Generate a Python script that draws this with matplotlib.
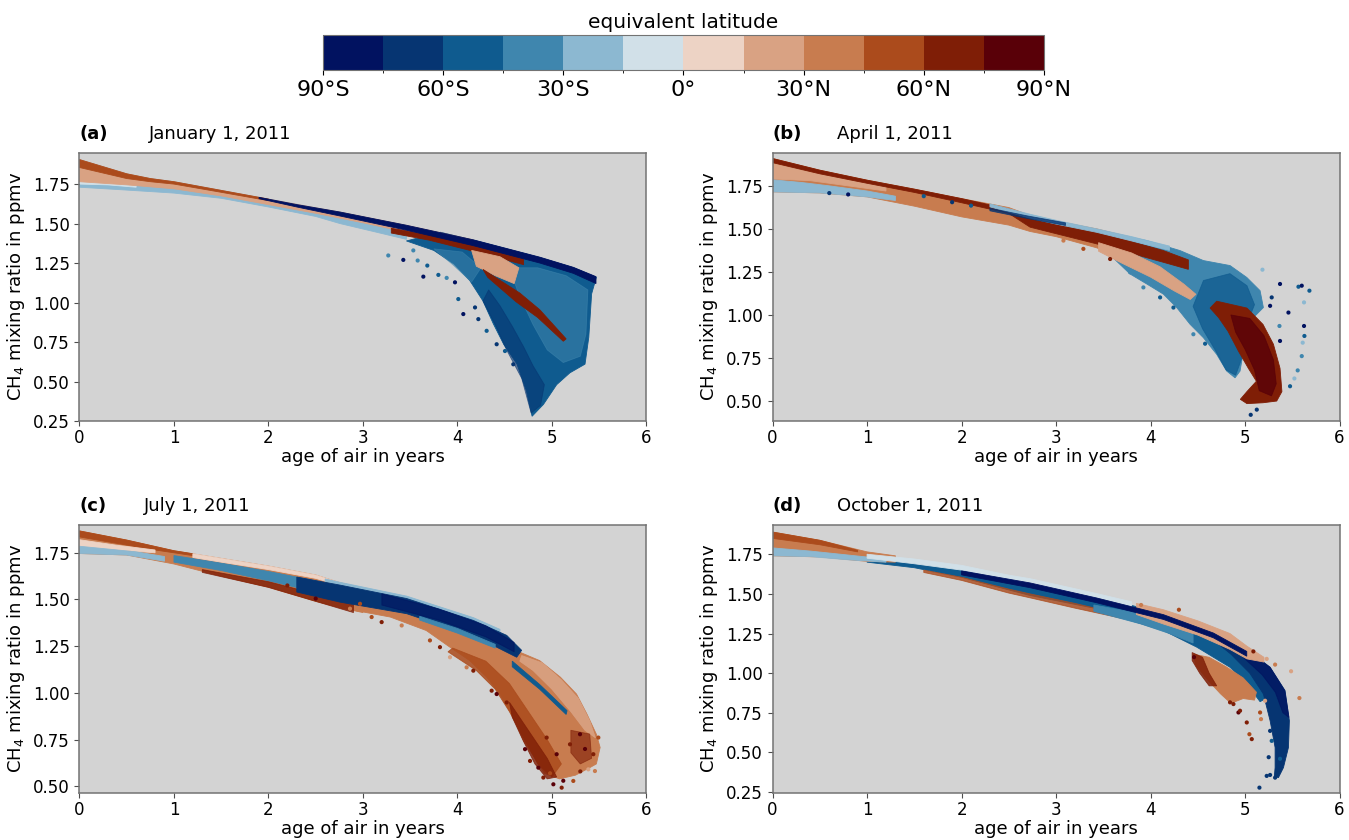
import matplotlib
matplotlib.use("Agg")
import matplotlib.pyplot as plt
from matplotlib.colors import ListedColormap, BoundaryNorm
from matplotlib.cm import ScalarMappable

# ---------------- colour scale (equivalent latitude) ----------------
lat_bounds = [-90, -75, -60, -45, -30, -15, 0, 15, 30, 45, 60, 75, 90]
band_colors = ["#011260", "#063572", "#0f5b8f", "#3f86ae", "#8cb8d1", "#d1e0e8",
               "#edd3c5", "#d9a283", "#c87c4f", "#ab4b1c", "#7f1e06", "#590008"]
cbar_ticks = [-90, -60, -30, 0, 30, 60, 90]
cbar_labels = ["90°S", "60°S", "30°S", "0°", "30°N", "60°N", "90°N"]

panel_letters = ["(a)", "(b)", "(c)", "(d)"]
panel_titles = ["January 1, 2011", "April 1, 2011", "July 1, 2011", "October 1, 2011"]
x_ticks = [0, 1, 2, 3, 4, 5, 6]
y_limits = [(0.25, 1.948), (0.384, 1.942), (0.466, 1.90), (0.246, 1.936)]
y_ticks = [[0.25, 0.50, 0.75, 1.00, 1.25, 1.50, 1.75],
           [0.50, 0.75, 1.00, 1.25, 1.50, 1.75],
           [0.50, 0.75, 1.00, 1.25, 1.50, 1.75],
           [0.25, 0.50, 0.75, 1.00, 1.25, 1.50, 1.75]]

# ---------------- panel (a): January (age in years, CH4 in ppmv) ----------------
a_cloud_age = [3.46, 3.75, 3.96, 4.13, 4.27, 4.38, 4.49, 4.63, 4.73, 4.79, 4.91, 5.05, 5.19, 5.35, 5.39, 5.42, 5.47, 5.23, 4.87, 4.17, 3.82]
a_cloud_ch4 = [1.39, 1.33, 1.245, 1.14, 1.01, 0.865, 0.735, 0.61, 0.44, 0.28, 0.355, 0.48, 0.555, 0.61, 0.78, 1.055, 1.16, 1.22, 1.285, 1.395, 1.445]
a_cloudlight_age = [4.55, 4.85, 5.15, 5.38, 5.36, 5.30, 5.12, 4.95, 4.80, 4.65]
a_cloudlight_ch4 = [1.22, 1.22, 1.17, 1.08, 0.80, 0.66, 0.62, 0.70, 0.86, 1.05]
a_cloudlight2_age = [3.75, 4.05, 4.25, 4.15, 3.95]
a_cloudlight2_ch4 = [1.34, 1.32, 1.22, 1.13, 1.24]
a_clouddark_age = [4.27, 4.40, 4.52, 4.68, 4.78, 4.88, 4.92, 4.80, 4.70, 4.58, 4.45, 4.33]
a_clouddark_ch4 = [1.01, 0.86, 0.70, 0.52, 0.30, 0.35, 0.48, 0.60, 0.72, 0.85, 0.98, 1.08]
a_bandblue_age = [0, 0.25, 0.5, 0.75, 1, 1.5, 2, 2.5, 2.757, 3.1, 3.46, 3.46, 3.11, 2.757, 2.5, 2, 1.5, 1, 0.5, 0]
a_bandblue_ch4 = [1.905, 1.86, 1.815, 1.785, 1.765, 1.71, 1.655, 1.60, 1.573, 1.53, 1.489, 1.40, 1.45, 1.50, 1.545, 1.605, 1.66, 1.693, 1.712, 1.73]
a_bandlight_age = [0, 0.3, 0.6, 0.6, 0.3, 0]
a_bandlight_ch4 = [1.775, 1.76, 1.745, 1.73, 1.745, 1.75]
a_bandorange_age = [0, 0.25, 0.5, 0.75, 1, 1.5, 2, 2.5, 2.757, 3.46, 4.168, 4.17, 3.8, 3.46, 3.0, 2.5, 2, 1.5, 1, 0.5, 0.25, 0]
a_bandorange_ch4 = [1.905, 1.86, 1.815, 1.785, 1.765, 1.71, 1.655, 1.60, 1.573, 1.489, 1.397, 1.35, 1.40, 1.445, 1.505, 1.565, 1.62, 1.675, 1.72, 1.745, 1.755, 1.765]
a_bandred_age = [0, 0.25, 0.5, 0.75, 1.0, 1.5, 2.0, 2.0, 1.5, 1.0, 0.75, 0.5, 0.25, 0]
a_bandred_ch4 = [1.905, 1.86, 1.815, 1.785, 1.765, 1.71, 1.655, 1.645, 1.698, 1.75, 1.765, 1.785, 1.82, 1.855]
a_darkred_age = [3.3, 3.7, 4.1, 4.45, 4.7, 4.7, 4.45, 4.1, 3.7, 3.3]
a_darkred_ch4 = [1.47, 1.43, 1.375, 1.32, 1.275, 1.24, 1.28, 1.335, 1.395, 1.44]
a_peach_age = [4.15, 4.45, 4.65, 4.60, 4.40, 4.20]
a_peach_ch4 = [1.33, 1.29, 1.22, 1.12, 1.17, 1.23]
a_streak_age = [4.27, 4.66, 4.87, 5.15, 5.12, 4.85, 4.62, 4.32]
a_streak_ch4 = [1.21, 1.06, 0.955, 0.77, 0.755, 0.905, 1.005, 1.16]
a_navy_age = [1.9, 2.3, 2.757, 3.462, 4.168, 4.873, 5.226, 5.466, 5.466, 5.226, 4.873, 4.168, 3.462, 2.757, 2.3, 1.9]
a_navy_ch4 = [1.666, 1.62, 1.573, 1.489, 1.397, 1.287, 1.223, 1.164, 1.12, 1.185, 1.25, 1.36, 1.458, 1.548, 1.605, 1.658]
a_dot_age = [3.268, 3.427, 3.579, 3.681, 3.533, 3.639, 3.798, 3.886, 3.974, 4.009, 4.062, 4.186, 4.221, 4.309, 4.415, 4.503, 4.591]
a_dot_ch4 = [1.298, 1.270, 1.266, 1.234, 1.330, 1.164, 1.175, 1.156, 1.128, 1.022, 0.927, 0.969, 0.895, 0.821, 0.736, 0.693, 0.609]
a_dot_lat = [-37.5, -82.5, -37.5, -52.5, -37.5, -82.5, -52.5, -37.5, -82.5, -52.5, -82.5, -67.5, -67.5, -52.5, -67.5, -52.5, -67.5]

# ---------------- panel (b): April ----------------
b_cloud_age = [3.607, 3.960, 4.312, 4.559, 4.841, 5.018, 5.159, 5.194, 5.018, 4.983, 4.947, 4.894, 4.806, 4.700, 4.559, 4.418, 4.277, 4.136, 3.960, 3.783, 3.55]
b_cloud_ch4 = [1.471, 1.432, 1.374, 1.316, 1.287, 1.218, 1.141, 1.043, 0.946, 0.791, 0.674, 0.635, 0.674, 0.771, 0.868, 0.946, 1.043, 1.121, 1.180, 1.238, 1.36]
b_clouddark_age = [4.56, 4.84, 5.02, 5.10, 5.00, 4.96, 4.90, 4.80, 4.68, 4.55, 4.45]
b_clouddark_ch4 = [1.20, 1.24, 1.17, 1.06, 0.92, 0.74, 0.65, 0.68, 0.80, 0.92, 1.05]
b_band_age = [0, 0.5, 1, 1.5, 2, 2.5, 2.725, 3.0, 3.43, 3.8, 3.8, 3.43, 3.0, 2.725, 2.5, 2, 1.5, 1, 0.5, 0]
b_band_ch4 = [1.909, 1.841, 1.783, 1.731, 1.676, 1.624, 1.578, 1.545, 1.50, 1.45, 1.31, 1.39, 1.455, 1.485, 1.522, 1.57, 1.632, 1.686, 1.709, 1.715]
b_peachleft_age = [0, 0.4, 0.8, 1.2, 1.2, 0.8, 0.4, 0]
b_peachleft_ch4 = [1.88, 1.83, 1.785, 1.745, 1.72, 1.75, 1.78, 1.79]
b_blueleft_age = [0, 0.3, 0.6, 1.0, 1.3, 1.3, 1.0, 0.5, 0]
b_blueleft_ch4 = [1.785, 1.77, 1.75, 1.72, 1.69, 1.665, 1.686, 1.709, 1.715]
b_darkred_age = [0, 0.5, 1, 1.5, 2, 2.5, 2.725, 3.43, 4.136, 4.40, 4.40, 4.136, 3.43, 2.725, 2.5, 2, 1.5, 1, 0.5, 0]
b_darkred_ch4 = [1.909, 1.841, 1.783, 1.731, 1.676, 1.615, 1.565, 1.485, 1.374, 1.32, 1.265, 1.306, 1.413, 1.51, 1.59, 1.652, 1.712, 1.765, 1.82, 1.885]
b_lightblue_age = [2.3, 2.725, 3.0, 3.43, 3.8, 4.2, 4.2, 3.8, 3.43, 3.0, 2.725, 2.3]
b_lightblue_ch4 = [1.645, 1.585, 1.55, 1.50, 1.455, 1.40, 1.375, 1.43, 1.48, 1.528, 1.562, 1.628]
b_navystreak_age = [2.3, 2.7, 3.1, 3.1, 2.7, 2.3]
b_navystreak_ch4 = [1.62, 1.575, 1.535, 1.52, 1.56, 1.605]
b_peach_age = [3.45, 3.80, 4.10, 4.35, 4.48, 4.42, 4.25, 4.00, 3.70, 3.45]
b_peach_ch4 = [1.42, 1.36, 1.28, 1.18, 1.12, 1.09, 1.14, 1.22, 1.30, 1.37]
b_blob_age = [4.70, 5.02, 5.19, 5.30, 5.37, 5.39, 5.335, 5.19, 5.02, 4.95, 5.02, 5.12, 5.035, 4.93, 4.82, 4.72, 4.63]
b_blob_ch4 = [1.08, 1.04, 0.945, 0.83, 0.69, 0.555, 0.50, 0.49, 0.485, 0.51, 0.555, 0.615, 0.69, 0.79, 0.905, 0.985, 1.04]
b_blobcore_age = [4.85, 5.05, 5.20, 5.30, 5.33, 5.28, 5.15, 5.10, 5.00, 4.90]
b_blobcore_ch4 = [1.00, 0.98, 0.88, 0.74, 0.60, 0.53, 0.56, 0.68, 0.80, 0.90]
b_dot_age = [5.184, 5.370, 5.459, 5.565, 5.600, 5.681, 5.624, 5.624, 5.628, 5.610, 5.600, 5.557, 5.522, 5.476, 5.364, 5.370, 5.282, 5.265, 5.06, 5.124,
             3.783, 3.924, 4.101, 4.242, 4.453, 4.577, 3.078, 3.289, 3.572, 1.6, 1.9, 2.1, 0.6, 0.8]
b_dot_ch4 = [1.263, 1.180, 1.014, 1.164, 1.170, 1.141, 1.073, 0.936, 0.878, 0.839, 0.761, 0.678, 0.631, 0.586, 0.936, 0.849, 1.102, 1.053, 0.42, 0.450,
             1.248, 1.160, 1.102, 1.043, 0.888, 0.833, 1.432, 1.384, 1.325, 1.69, 1.655, 1.635, 1.708, 1.70]
b_dot_lat = [-22.5, -82.5, -82.5, -52.5, -82.5, -52.5, -22.5, -82.5, -52.5, -22.5, -37.5, -37.5, -22.5, -52.5, -37.5, -82.5, -67.5, -82.5, -67.5, -67.5,
             -37.5, -37.5, -52.5, -52.5, -37.5, -52.5, 37.5, 52.5, 67.5, -52.5, -67.5, -52.5, -67.5, -82.5]

# ---------------- panel (c): July ----------------
c_cloud_age = [4.66, 4.87, 5.09, 5.26, 5.37, 5.47, 5.51, 5.47, 5.40, 5.25, 5.08, 4.92, 4.82, 4.70, 4.59, 4.45, 4.31, 4.13, 3.92, 3.67, 3.29, 2.76, 2.76, 3.46, 3.99, 4.34, 4.63]
c_cloud_ch4 = [1.218, 1.173, 1.084, 0.994, 0.887, 0.779, 0.708, 0.62, 0.60, 0.56, 0.54, 0.57, 0.65, 0.743, 0.869, 0.994, 1.084, 1.173, 1.245, 1.334, 1.406, 1.456, 1.486, 1.424, 1.334, 1.263, 1.191]
c_cloudlight_age = [4.68, 4.90, 5.10, 5.28, 5.40, 5.46, 5.35, 5.20, 5.00, 4.80, 4.66]
c_cloudlight_ch4 = [1.20, 1.16, 1.07, 0.97, 0.85, 0.76, 0.80, 0.90, 1.02, 1.12, 1.17]
c_cloudred_age = [3.95, 4.30, 4.55, 4.75, 4.95, 5.10, 5.00, 4.85, 4.70, 4.55, 4.40, 4.20, 3.90]
c_cloudred_ch4 = [1.24, 1.17, 1.05, 0.90, 0.75, 0.62, 0.55, 0.62, 0.76, 0.90, 1.02, 1.12, 1.22]
c_clouddark_age = [4.55, 4.75, 4.95, 5.05, 4.95, 4.82, 4.70, 4.58]
c_clouddark_ch4 = [0.95, 0.80, 0.65, 0.55, 0.54, 0.62, 0.74, 0.87]
c_clouddark2_age = [5.20, 5.40, 5.42, 5.30, 5.20]
c_clouddark2_ch4 = [0.80, 0.78, 0.65, 0.62, 0.68]
c_band_age = [0, 0.5, 1, 1.5, 2, 2.5, 2.757, 3.0, 3.0, 2.757, 2.5, 2, 1.5, 1, 0.5, 0]
c_band_ch4 = [1.867, 1.818, 1.761, 1.72, 1.679, 1.631, 1.59, 1.56, 1.43, 1.456, 1.49, 1.565, 1.625, 1.69, 1.738, 1.746]
c_redtop_age = [0, 0.5, 1, 1.2, 1.2, 0.8, 0.4, 0]
c_redtop_ch4 = [1.867, 1.818, 1.761, 1.745, 1.735, 1.765, 1.80, 1.835]
c_peachleft_age = [0, 0.4, 0.8, 0.8, 0.4, 0]
c_peachleft_ch4 = [1.82, 1.79, 1.765, 1.75, 1.765, 1.78]
c_blueleft_age = [0, 0.3, 0.6, 0.9, 0.9, 0.5, 0]
c_blueleft_ch4 = [1.785, 1.77, 1.755, 1.73, 1.705, 1.738, 1.746]
c_bluemid_age = [1.0, 1.5, 2, 2.5, 2.757, 2.757, 2.5, 2, 1.5, 1.0]
c_bluemid_ch4 = [1.735, 1.695, 1.65, 1.60, 1.565, 1.50, 1.54, 1.60, 1.655, 1.70]
c_lighttop_age = [1.2, 1.5, 2, 2.5, 2.757, 2.757, 2.5, 2, 1.5, 1.2]
c_lighttop_ch4 = [1.745, 1.72, 1.679, 1.631, 1.59, 1.575, 1.613, 1.66, 1.70, 1.725]
c_redbottom_age = [1.3, 2, 2.5, 2.9, 2.9, 2.5, 2, 1.3]
c_redbottom_ch4 = [1.66, 1.595, 1.53, 1.47, 1.43, 1.49, 1.565, 1.645]
c_lightblue_age = [2.6, 2.757, 3.463, 4.168, 4.45, 4.45, 4.168, 3.463, 2.757, 2.6]
c_lightblue_ch4 = [1.61, 1.592, 1.518, 1.403, 1.34, 1.325, 1.385, 1.503, 1.575, 1.595]
c_navy_age = [2.3, 2.757, 3.463, 4.168, 4.521, 4.679, 4.627, 4.344, 3.992, 3.463, 2.757, 2.3]
c_navy_ch4 = [1.62, 1.577, 1.505, 1.388, 1.308, 1.228, 1.191, 1.263, 1.334, 1.424, 1.486, 1.54]
c_navydark_age = [3.2, 3.8, 4.3, 4.6, 4.6, 4.3, 3.8, 3.2]
c_navydark_ch4 = [1.53, 1.45, 1.36, 1.27, 1.22, 1.30, 1.39, 1.47]
c_bluelow_age = [3.6, 4.0, 4.4, 4.4, 4.0, 3.6]
c_bluelow_ch4 = [1.41, 1.345, 1.26, 1.24, 1.32, 1.39]
c_streak_age = [4.58, 4.87, 5.16, 5.15, 4.87, 4.58]
c_streak_ch4 = [1.17, 1.045, 0.905, 0.885, 1.02, 1.14]
c_dot_age = [3.709, 3.815, 3.921, 4.097, 4.168, 4.362, 4.415, 4.521, 4.715, 4.768, 4.856, 4.909, 5.015, 5.103, 5.226, 5.385, 5.455, 5.491,
             5.438, 5.297, 5.191, 5.050, 4.944, 3.410, 3.198, 3.092, 2.863, 2.969, 5.35, 5.30, 5.12, 4.98, 2.2, 2.5]
c_dot_ch4 = [1.281, 1.245, 1.191, 1.137, 1.119, 1.012, 0.994, 0.949, 0.699, 0.636, 0.600, 0.547, 0.511, 0.493, 0.529, 0.591, 0.582, 0.761,
             0.672, 0.779, 0.725, 0.672, 0.761, 1.361, 1.379, 1.406, 1.451, 1.477, 0.70, 0.58, 0.53, 0.57, 1.575, 1.505]
c_dot_lat = [52.5, 67.5, 22.5, 37.5, 67.5, 67.5, 82.5, 67.5, 82.5, 67.5, 82.5, 67.5, 82.5, 67.5, 52.5, 22.5, 37.5, 52.5,
             67.5, 82.5, 67.5, 82.5, 67.5, 37.5, 67.5, 52.5, 37.5, 52.5, 82.5, 67.5, 82.5, 52.5, 67.5, 82.5]

# ---------------- panel (d): October ----------------
d_body_age = [1.0, 1.5, 2, 2.5, 2.725, 3.43, 4.136, 4.665, 5.018, 5.265, 5.35, 5.25, 5.159, 5.018, 4.841, 4.489, 4.136, 3.783, 3.43, 2.725, 2.5, 2, 1.5, 1.0]
d_body_ch4 = [1.735, 1.70, 1.66, 1.60, 1.578, 1.485, 1.375, 1.25, 1.14, 1.02, 0.95, 0.85, 0.82, 0.932, 1.037, 1.164, 1.269, 1.333, 1.407, 1.49, 1.525, 1.605, 1.665, 1.70]
d_tail_age = [4.665, 5.018, 5.265, 5.423, 5.469, 5.459, 5.406, 5.353, 5.31, 5.318, 5.318, 5.265, 5.194, 5.05, 4.85, 4.665]
d_tail_ch4 = [1.269, 1.153, 1.037, 0.890, 0.700, 0.531, 0.404, 0.341, 0.35, 0.404, 0.531, 0.700, 0.869, 1.00, 1.12, 1.21]
d_taildark_age = [5.0, 5.265, 5.42, 5.465, 5.40, 5.32, 5.18, 4.98]
d_taildark_ch4 = [1.15, 1.037, 0.89, 0.72, 0.75, 0.88, 0.99, 1.10]
d_leftorange_age = [0, 0.5, 1, 1.3, 1.3, 1, 0.5, 0]
d_leftorange_ch4 = [1.89, 1.838, 1.765, 1.74, 1.70, 1.705, 1.733, 1.74]
d_leftred_age = [0, 0.5, 0.9, 0.9, 0.5, 0]
d_leftred_ch4 = [1.89, 1.838, 1.775, 1.765, 1.81, 1.85]
d_leftblue_age = [0, 0.4, 0.8, 1.2, 1.2, 0.8, 0.4, 0]
d_leftblue_ch4 = [1.79, 1.77, 1.745, 1.72, 1.70, 1.715, 1.735, 1.74]
d_lighttop_age = [1.0, 1.5, 2, 2.5, 2.725, 3.43, 3.8, 3.8, 3.43, 2.725, 2.5, 2, 1.5, 1.0]
d_lighttop_ch4 = [1.75, 1.72, 1.68, 1.618, 1.596, 1.502, 1.45, 1.42, 1.475, 1.565, 1.59, 1.65, 1.69, 1.725]
d_orangebottom_age = [1.6, 2, 2.5, 2.725, 3.2, 3.7, 3.7, 3.2, 2.725, 2.5, 2, 1.6]
d_orangebottom_ch4 = [1.65, 1.605, 1.53, 1.50, 1.44, 1.37, 1.345, 1.41, 1.475, 1.505, 1.585, 1.635]
d_bluelight_age = [3.4, 3.9, 4.2, 4.45, 4.45, 4.2, 3.9, 3.4]
d_bluelight_ch4 = [1.43, 1.375, 1.32, 1.25, 1.19, 1.25, 1.31, 1.39]
d_peach_age = [3.85, 4.136, 4.5, 4.84, 5.02, 5.2, 5.2, 5.02, 4.84, 4.5, 4.136, 3.85]
d_peach_ch4 = [1.44, 1.40, 1.33, 1.25, 1.17, 1.10, 1.07, 1.09, 1.15, 1.24, 1.31, 1.37]
d_navyline_age = [2.0, 2.725, 3.43, 4.136, 4.665, 5.018, 5.018, 4.665, 4.136, 3.43, 2.725, 2.0]
d_navyline_ch4 = [1.645, 1.569, 1.474, 1.369, 1.253, 1.137, 1.107, 1.223, 1.339, 1.444, 1.539, 1.62]
d_cloud_age = [4.45, 4.62, 4.80, 4.98, 5.12, 5.10, 4.98, 4.85, 4.74, 4.60, 4.48]
d_cloud_ch4 = [1.12, 1.10, 1.04, 0.97, 0.88, 0.83, 0.84, 0.81, 0.87, 0.96, 1.05]
d_clouddark_age = [4.44, 4.55, 4.62, 4.70, 4.62, 4.52, 4.44]
d_clouddark_ch4 = [1.13, 1.10, 1.00, 0.92, 0.92, 1.00, 1.08]
d_dot_age = [4.460, 4.841, 4.877, 4.930, 4.947, 5.018, 5.046, 5.071, 5.159, 5.169, 5.212, 5.229, 5.318, 5.487, 5.575, 5.088,
             5.265, 5.229, 5.265, 5.318, 5.152, 5.282, 5.25, 5.37, 3.9, 4.3]
d_dot_ch4 = [1.101, 0.816, 0.805, 0.752, 0.763, 0.689, 0.615, 0.584, 0.752, 0.710, 0.826, 1.090, 1.054, 1.012, 0.843, 1.137,
             0.636, 0.352, 0.358, 0.341, 0.278, 0.573, 0.47, 0.46, 1.43, 1.40]
d_dot_lat = [82.5, 67.5, 67.5, 82.5, 67.5, 67.5, 52.5, 67.5, 52.5, 37.5, 22.5, 22.5, 37.5, 22.5, 37.5, 67.5,
             -67.5, -67.5, -67.5, -67.5, -67.5, -52.5, -67.5, -52.5, 37.5, 52.5]

# layer tables: (equivalent latitude, ages, ch4, alpha)
a_layers = [(-52.5, a_cloud_age, a_cloud_ch4, 1.0), (-37.5, a_cloudlight_age, a_cloudlight_ch4, 0.55),
            (-37.5, a_cloudlight2_age, a_cloudlight2_ch4, 0.5), (-67.5, a_clouddark_age, a_clouddark_ch4, 0.6),
            (-22.5, a_bandblue_age, a_bandblue_ch4, 1.0), (-7.5, a_bandlight_age, a_bandlight_ch4, 1.0),
            (22.5, a_bandorange_age, a_bandorange_ch4, 1.0), (52.5, a_bandred_age, a_bandred_ch4, 1.0),
            (67.5, a_darkred_age, a_darkred_ch4, 1.0), (22.5, a_peach_age, a_peach_ch4, 1.0),
            (67.5, a_streak_age, a_streak_ch4, 1.0), (-82.5, a_navy_age, a_navy_ch4, 1.0)]
b_layers = [(-37.5, b_cloud_age, b_cloud_ch4, 1.0), (-52.5, b_clouddark_age, b_clouddark_ch4, 0.75),
            (37.5, b_band_age, b_band_ch4, 1.0), (22.5, b_peachleft_age, b_peachleft_ch4, 1.0),
            (-22.5, b_blueleft_age, b_blueleft_ch4, 1.0), (67.5, b_darkred_age, b_darkred_ch4, 1.0),
            (-22.5, b_lightblue_age, b_lightblue_ch4, 1.0), (-67.5, b_navystreak_age, b_navystreak_ch4, 0.8),
            (22.5, b_peach_age, b_peach_ch4, 1.0), (67.5, b_blob_age, b_blob_ch4, 1.0),
            (82.5, b_blobcore_age, b_blobcore_ch4, 0.8)]
c_layers = [(37.5, c_cloud_age, c_cloud_ch4, 1.0), (22.5, c_cloudlight_age, c_cloudlight_ch4, 0.9),
            (52.5, c_cloudred_age, c_cloudred_ch4, 0.85), (67.5, c_clouddark_age, c_clouddark_ch4, 0.8),
            (67.5, c_clouddark2_age, c_clouddark2_ch4, 0.6), (37.5, c_band_age, c_band_ch4, 1.0),
            (52.5, c_redtop_age, c_redtop_ch4, 1.0), (7.5, c_peachleft_age, c_peachleft_ch4, 1.0),
            (-22.5, c_blueleft_age, c_blueleft_ch4, 1.0), (-37.5, c_bluemid_age, c_bluemid_ch4, 1.0),
            (7.5, c_lighttop_age, c_lighttop_ch4, 1.0), (67.5, c_redbottom_age, c_redbottom_ch4, 0.8),
            (-22.5, c_lightblue_age, c_lightblue_ch4, 1.0), (-67.5, c_navy_age, c_navy_ch4, 1.0),
            (-82.5, c_navydark_age, c_navydark_ch4, 0.6), (-37.5, c_bluelow_age, c_bluelow_ch4, 1.0),
            (-52.5, c_streak_age, c_streak_ch4, 1.0)]
d_layers = [(-52.5, d_body_age, d_body_ch4, 1.0), (-67.5, d_tail_age, d_tail_ch4, 1.0),
            (-82.5, d_taildark_age, d_taildark_ch4, 0.7), (37.5, d_leftorange_age, d_leftorange_ch4, 1.0),
            (52.5, d_leftred_age, d_leftred_ch4, 1.0), (-22.5, d_leftblue_age, d_leftblue_ch4, 1.0),
            (-7.5, d_lighttop_age, d_lighttop_ch4, 1.0), (52.5, d_orangebottom_age, d_orangebottom_ch4, 0.8),
            (-37.5, d_bluelight_age, d_bluelight_ch4, 1.0), (22.5, d_peach_age, d_peach_ch4, 1.0),
            (-82.5, d_navyline_age, d_navyline_ch4, 1.0), (37.5, d_cloud_age, d_cloud_ch4, 1.0),
            (67.5, d_clouddark_age, d_clouddark_ch4, 0.85)]
all_layers = [a_layers, b_layers, c_layers, d_layers]
all_dots = [(a_dot_age, a_dot_ch4, a_dot_lat), (b_dot_age, b_dot_ch4, b_dot_lat),
            (c_dot_age, c_dot_ch4, c_dot_lat), (d_dot_age, d_dot_ch4, d_dot_lat)]

# ---------------- figure ----------------
cmap = ListedColormap(band_colors)
norm = BoundaryNorm(lat_bounds, cmap.N)

fig = plt.figure(figsize=(13.49, 8.40), dpi=100)
positions = [[0.0589, 0.4988, 0.4203, 0.3193], [0.5727, 0.4988, 0.4203, 0.3193],
             [0.0589, 0.0563, 0.4203, 0.3190], [0.5727, 0.0563, 0.4203, 0.3190]]
title_x = [0.123, 0.114, 0.114, 0.114]

for i in range(4):
    ax = fig.add_axes(positions[i])
    ax.set_facecolor("#d3d3d3")
    for lat, ages, vals, alpha in all_layers[i]:
        col = cmap(norm(lat))
        ax.fill(ages, vals, color=col, alpha=alpha, lw=0.6, ec=col)
    dage, dval, dlat = all_dots[i]
    ax.scatter(dage, dval, c=dlat, cmap=cmap, norm=norm, s=9, linewidths=0)
    ax.set_xlim(0, 6)
    ax.set_ylim(*y_limits[i])
    ax.set_xticks(x_ticks)
    ax.set_yticks(y_ticks[i])
    ax.set_yticklabels(["%.2f" % v for v in y_ticks[i]])
    ax.tick_params(labelsize=12, color="0.3")
    ax.tick_params(axis="x", pad=2.5)
    for sp in ax.spines.values():
        sp.set_color("0.45")
        sp.set_linewidth(1.1)
    ax.set_xlabel("age of air in years", fontsize=13, labelpad=0.5)
    ax.set_ylabel("CH$_4$ mixing ratio in ppmv", fontsize=13)
    ax.text(0.0, 1.035, panel_letters[i], transform=ax.transAxes, fontsize=13,
            fontweight="bold", ha="left", va="bottom")
    ax.text(title_x[i], 1.035, panel_titles[i], transform=ax.transAxes, fontsize=13,
            ha="left", va="bottom")

cax = fig.add_axes([0.2394, 0.9167, 0.5345, 0.0417])
cb = fig.colorbar(ScalarMappable(norm=norm, cmap=cmap), cax=cax,
                  orientation="horizontal", ticks=cbar_ticks)
cb.ax.set_xticklabels(cbar_labels)
cb.ax.tick_params(labelsize=16)
cb.outline.set_edgecolor("0.45")
cb.ax.set_title("equivalent latitude", fontsize=14.5, pad=5)

fig.savefig("out.png", dpi=100)
